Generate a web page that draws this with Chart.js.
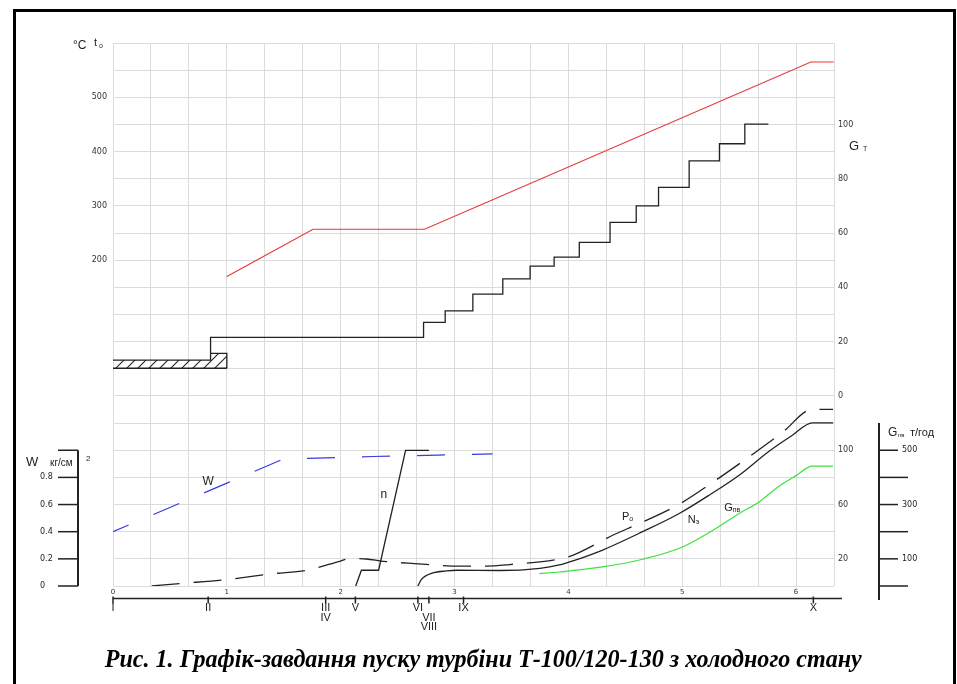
<!DOCTYPE html>
<html>
<head>
<meta charset="utf-8">
<script src="https://cdn.jsdelivr.net/npm/chart.js@4.4.0/dist/chart.umd.min.js"></script>
<style>
  body { margin: 0; background: #fff; }
  #wrap { position: relative; width: 957px; height: 684px; overflow: hidden; }
  #c { position: absolute; left: 0; top: 0; }
  #ramka { position: absolute; left: 13px; top: 9px; width: 943px; height: 720px; border: 3px solid #000; box-sizing: border-box; }
  #pidpys { position: absolute; left: 5px; width: 957px; top: 645px; text-align: center; white-space: nowrap; }
  #tekst { display: inline-block; font: italic bold 25px "Liberation Serif", serif; transform-origin: center; }
</style>
</head>
<body>
<div id="wrap">
  <canvas id="c" width="957" height="684"></canvas>
  <div id="ramka"></div>
  <div id="pidpys"><span id="tekst">Рис. 1. Графік-завдання пуску турбіни Т-100/120-130 з холодного стану</span></div>
</div>
<script>
/* --- Дані --- */
const X_LABELS = ['0', '1', '2', '3', '4', '5', '6'];
const TEMP_LABELS = [200, 300, 400, 500];
const GT_LABELS = [0, 20, 40, 60, 80, 100];
const LOW_LABELS = [20, 60, 100];
const W_TICKS = [0, 0.2, 0.4, 0.6, 0.8, 1.0];
const W_TICK_LABELS = ['0', '0.2', '0.4', '0.6', '0.8', ''];
const GPV_TICKS = [0, 100, 200, 300, 400, 500];
const GPV_TICK_LABELS = ['', '100', '', '300', '', '500'];

// t0, °C
const TEMP_X = [1.0, 1.757, 2.737, 6.13, 6.33];
const TEMP_Y = [170, 257, 257, 565, 565];

// G_T (сходинки)
const GT_X = [0.857, 2.728, 2.918, 3.161, 3.424, 3.664, 3.875, 4.096, 4.366, 4.596, 4.792, 5.061, 5.327, 5.550, 5.757];
const GT_Y = [15.7, 21.6, 27.1, 31.3, 37.5, 43.1, 47.8, 51.1, 56.6, 63.9, 70.0, 76.8, 86.6, 92.9, 100.1];

// заштрихований блок
const BLOK_X = [0, 0.857, 0.857, 1.0, 1.0];
const BLOK_Y = [13.2, 13.2, 15.7, 15.7, 10.2];
const BLOK_NIZ_X = [0, 1.0];
const BLOK_NIZ_Y = [10.2, 10.2];

// W, кг/см2
const W_X = [0, 1.509, 1.719, 2.281, 2.848, 3.333];
const W_Y = [0.40, 0.94, 0.94, 0.954, 0.964, 0.973];

// P0
const PO_X = [0.34, 0.588, 0.997, 1.406, 1.699, 1.991, 2.079, 2.225, 2.371, 2.649, 3.044, 3.278, 3.482, 3.906, 4.038, 4.272, 4.389, 4.623, 4.974, 5.296, 5.588, 5.880, 6.143, 6.325];
const PO_Y = [0, 1.8, 4.7, 9.1, 11.6, 18.2, 20.2, 19.9, 18.2, 16.5, 14.7, 14.7, 15.8, 19.7, 22.6, 32.2, 37.4, 46.0, 60.3, 78.0, 95.2, 113.1, 130.1, 130.1];

// Nэ
const NE_X = [2.678, 2.708, 2.81, 2.93, 3.015, 3.395, 3.75, 3.92, 4.04, 4.301, 4.652, 4.974, 5.237, 5.500, 5.763, 5.968, 6.143, 6.325];
const NE_Y = [0, 4.7, 9.6, 11.1, 11.6, 11.4, 13.0, 15.5, 18.5, 26.5, 40.0, 53.4, 66.9, 81.6, 99.3, 111.1, 120.2, 120.2];

// n
const N_X = [2.132, 2.182, 2.333, 2.570, 2.775];
const N_Y = [0, 11.6, 11.6, 99.9, 99.9];

// Gпв, т/год
const GPV_X = [3.746, 3.921, 4.301, 4.652, 5.003, 5.296, 5.500, 5.675, 5.851, 5.997, 6.143, 6.325];
const GPV_Y = [45.7, 51.6, 70.1, 98.5, 143.8, 211.7, 267.0, 309.7, 367.6, 405.6, 441.4, 441.4];

// етапи пуску
const EVENT_X = [0, 0.836, 1.868, 2.129, 2.678, 2.775, 3.079, 6.152];
const EVENT_LABELS = [['I'], ['II'], ['III', 'IV'], ['V'], ['VI'], ['', 'VII', 'VIII'], ['IX'], ['X']];

const pary = (xs, ys) => xs.map((x, i) => ({ x, y: ys[i] }));
const SHRYFT = '"Liberation Sans", Arial, sans-serif';
const SHRYFT_CYFR = '"DejaVu Sans", sans-serif';

const ctx = document.getElementById('c').getContext('2d');

/* штриховка */
function shtrykhovka() {
  const p = document.createElement('canvas');
  p.width = 11; p.height = 11;
  const g = p.getContext('2d');
  g.strokeStyle = '#222';
  g.lineWidth = 1.1;
  g.beginPath();
  g.moveTo(0, 11); g.lineTo(11, 0);
  g.moveTo(-6, 6); g.lineTo(6, -6);
  g.moveTo(5, 17); g.lineTo(17, 5);
  g.stroke();
  return ctx.createPattern(p, 'repeat');
}

/* --- додаткові осі та підписи --- */
const dodatky = {
  id: 'dodatky',
  afterDraw(chart) {
    const c = chart.ctx, a = chart.chartArea, s = chart.scales;
    const lin = (x1, y1, x2, y2) => { c.beginPath(); c.moveTo(x1, y1); c.lineTo(x2, y2); c.stroke(); };
    const txt = (t, x, y, size, align, family) => {
      c.font = size + 'px ' + (family || SHRYFT);
      c.textAlign = align || 'left';
      c.textBaseline = 'middle';
      c.fillText(t, x, y);
    };
    const zIndeksom = (t, sub, x, y, size) => {
      c.font = size + 'px ' + SHRYFT;
      const w1 = c.measureText(t).width;
      c.font = Math.round(size * 0.6) + 'px ' + SHRYFT;
      const w2 = c.measureText(sub).width;
      const x0 = x - (w1 + w2) / 2;
      txt(t, x0, y, size);
      txt(sub, x0 + w1, y + 2, Math.round(size * 0.6));
    };
    c.save();
    c.strokeStyle = '#222';
    c.fillStyle = '#222';

    /* вісь W */
    const xw = a.left - 35;
    c.lineWidth = 2;
    lin(xw, s.yW.getPixelForValue(W_TICKS[W_TICKS.length - 1]), xw, s.yW.getPixelForValue(0));
    c.lineWidth = 1.5;
    W_TICKS.forEach((v, i) => {
      const y = s.yW.getPixelForValue(v);
      lin(xw - 20, y, xw, y);
      txt(W_TICK_LABELS[i], a.left - 73, y, 8, 'left', SHRYFT_CYFR);
    });
    txt('W', 26, 462, 13);
    txt('кг/см', 50, 463, 10);
    txt('2', 86, 459, 8);

    /* вісь Gпв */
    const xg = a.right + 45;
    c.lineWidth = 2;
    lin(xg, s.yG.getPixelForValue(600), xg, a.bottom + 14);
    c.lineWidth = 1.5;
    GPV_TICKS.forEach((v, i) => {
      const y = s.yG.getPixelForValue(v);
      lin(xg, y, xg + (GPV_TICK_LABELS[i] ? 19 : 29), y);
      txt(GPV_TICK_LABELS[i], xg + 23, y, 8, 'left', SHRYFT_CYFR);
    });
    txt('G', 888, 433, 12);
    txt('пв', 898, 435, 6);
    txt('т/год', 910, 433, 11);

    /* вісь етапів */
    const ye = a.bottom + 12.5;
    c.lineWidth = 1.5;
    lin(a.left, ye, a.right + 8, ye);
    EVENT_X.forEach((v, i) => {
      const x = s.x.getPixelForValue(v);
      lin(x, ye - 2, x, ye + 5);
      EVENT_LABELS[i].forEach((t, k) => txt(t, x, ye + 9.5 + k * 9.6, 11, 'center'));
    });

    /* підписи осей */
    txt('°C', 73, 46, 12);
    txt('t', 94, 43, 11);
    txt('o', 99, 46, 7);
    txt('G', 849, 146, 13);
    txt('T', 863, 149, 7);

    /* підписи кривих */
    const px = v => s.x.getPixelForValue(v);
    const py = v => s.yLow.getPixelForValue(v);
    txt('W', px(0.836), py(77.2), 12, 'center');
    txt('n', px(2.378), py(67.4), 12, 'center');
    zIndeksom('P', 'o', px(4.52), py(50.9), 11);
    zIndeksom('N', 'э', px(5.10), py(48.5), 11);
    zIndeksom('G', 'пв', px(5.44), py(57.5), 11);
    c.restore();
  }
};

const linia = (dani, os, kolir, dod) => Object.assign({
  data: dani,
  yAxisID: os,
  borderColor: kolir,
  borderWidth: 1.3,
  pointRadius: 0,
  fill: false,
  tension: 0,
}, dod || {});

new Chart(ctx, {
  type: 'line',
  data: {
    datasets: [
      linia(pary(TEMP_X, TEMP_Y), 'yT', '#e8383a', { borderWidth: 1.2 }),
      linia(pary(GT_X, GT_Y), 'yGT', '#222', { stepped: 'after' }),
      linia(pary(BLOK_X, BLOK_Y), 'yGT', '#222', { fill: { value: 10.2 }, backgroundColor: shtrykhovka() }),
      linia(pary(BLOK_NIZ_X, BLOK_NIZ_Y), 'yGT', '#222'),
      linia(pary(W_X, W_Y), 'yW', '#3a3ae0', { borderWidth: 1.2, borderDash: [28, 27], borderDashOffset: 11 }),
      linia(pary(PO_X, PO_Y), 'yLow', '#222', { borderDash: [28, 14], cubicInterpolationMode: 'monotone' }),
      linia(pary(NE_X, NE_Y), 'yLow', '#222', { cubicInterpolationMode: 'monotone' }),
      linia(pary(N_X, N_Y), 'yLow', '#222'),
      linia(pary(GPV_X, GPV_Y), 'yG', '#3ee03e', { borderWidth: 1.2, cubicInterpolationMode: 'monotone' }),
    ],
  },
  options: {
    responsive: false,
    animation: false,
    layout: { padding: { top: 43, left: 0, right: 0, bottom: 0 } },
    plugins: { legend: { display: false }, tooltip: { enabled: false } },
    scales: {
      x: {
        type: 'linear', min: 0, max: 19 / 3,
        afterBuildTicks: (s) => { s.ticks = Array.from({ length: 20 }, (_, i) => ({ value: i / 3 })); },
        afterFit: (s) => { s.height = 98; },
        grid: { color: '#dcdcdc', drawTicks: false },
        border: { display: false },
        ticks: {
          autoSkip: false, maxRotation: 0, padding: 2, color: '#333',
          font: { family: SHRYFT_CYFR, size: 7 },
          callback: (v) => { const k = Math.round(v * 3); return k % 3 === 0 ? X_LABELS[k / 3] : ''; },
        },
      },
      yT: {
        position: 'left', min: -400, max: 600,
        afterBuildTicks: (s) => { s.ticks = Array.from({ length: 21 }, (_, i) => ({ value: -400 + i * 50 })); },
        afterFit: (s) => { s.width = 113; },
        grid: { color: '#dcdcdc', drawTicks: false },
        border: { display: false },
        ticks: {
          padding: 6, color: '#333', font: { family: SHRYFT_CYFR, size: 8 },
          callback: (v) => TEMP_LABELS.includes(v) ? String(v) : '',
        },
      },
      yGT: {
        position: 'right', min: -70, max: 130,
        afterBuildTicks: (s) => {
          s.ticks = GT_LABELS.concat(LOW_LABELS.map(v => -70 + v / 2)).map(v => ({ value: v }));
        },
        afterFit: (s) => { s.width = 123; },
        grid: { display: false, drawTicks: false },
        border: { display: false },
        ticks: {
          padding: 4, color: '#333', font: { family: SHRYFT_CYFR, size: 8 },
          callback: (v) => v >= 0 ? String(v) : String(Math.round((v + 70) * 2)),
        },
      },
      yLow: { display: false, min: 0, max: 400 },
      yW: { display: false, min: 0, max: 4 },
      yG: { display: false, min: 0, max: 2000 },
    },
  },
  plugins: [dodatky],
});

/* підпис під рисунком */
const tekst = document.getElementById('tekst');
const shyryna = tekst.getBoundingClientRect().width;
if (shyryna > 0) tekst.style.transform = 'scaleX(' + (757 / shyryna) + ')';
</script>
</body>
</html>
